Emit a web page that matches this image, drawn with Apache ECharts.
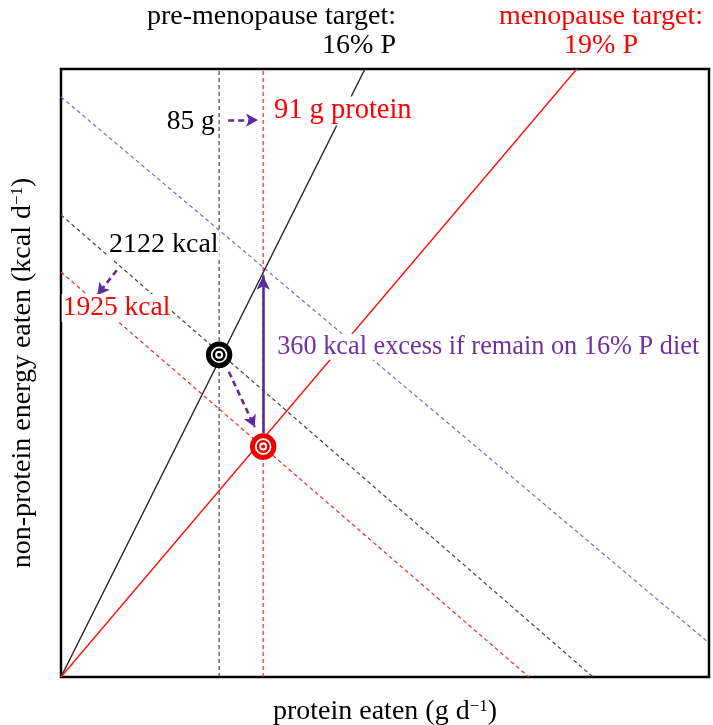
<!DOCTYPE html>
<html>
<head>
<meta charset="utf-8">
<script src="https://cdn.jsdelivr.net/npm/echarts@6/dist/echarts.min.js"></script>
<style>
  html, body { margin: 0; padding: 0; background: #fff; }
  #chart { width: 713px; height: 725px; }
</style>
</head>
<body>
<div id="chart"></div>
<script>
// ---- data (schematic axis units: 0..100 on both axes) ----
const blackSolidLine   = [[0, 0], [46.9, 100]];   // pre-menopause target 16% P
const redSolidLine     = [[0, 0], [79.6, 100]];   // menopause target 19% P
const purpleIsoLine    = [[0, 95.4], [100, 5.6]];
const blackIsoLine     = [[0, 76.0], [82.1, 0]];  // 2122 kcal
const redIsoLine       = [[0, 66.6], [72.2, 0]];  // 1925 kcal
const blackProteinLine = [[24.4, 0], [24.4, 100]]; // 85 g
const redProteinLine   = [[31.2, 0], [31.2, 100]]; // 91 g
const targetPoints     = [[24.4, 53.0], [31.2, 37.9]];
const dashedArrows     = [
  [[25.8, 91.6], [30.4, 91.6]],
  [[8.6, 66.9], [5.6, 62.8]],
  [[25.9, 50.2], [29.9, 41.1]]
];
const solidArrows      = [[[31.2, 40.1], [31.2, 66.0]]];
const labelTexts       = ['85 g', '91 g protein', '2122 kcal', '1925 kcal', '360 kcal excess if remain on 16% P diet'];
const labelAnchors     = [[23.9, 91.4], [32.7, 93.1], [7.25, 71.05], [0.1, 60.7], [33.2, 54.3]];
const titleTexts       = ['pre-menopause target:', '16% P', 'menopause target:', '19% P'];
const xAxisName        = 'protein eaten (g d{sup|\u22121})';
const yAxisName        = 'non-protein energy eaten (kcal d{sup|\u22121})';

// ---- styles ----
const FONT = '"Liberation Serif", "Times New Roman", serif';
const PURPLE = '#5b2a9c';
const PURPLE_TEXT = '#7030a0';
const RED = '#ff0000';
const labelColors = ['#000', RED, '#000', RED, PURPLE_TEXT];
const labelSides  = ['left', 'right', 'right', 'right', 'right'];
const labelSizes  = [27.5, 28.5, 28, 27.5, 26.3];
const targetColors = ['#000', '#ee0000'];
const TITLE_FS = 28;
const AXIS_FS = 28;

function lineSeries(data, color, width, dashed, z) {
  return {
    type: 'line', data: data, symbol: 'none', silent: true, z: z || 2,
    lineStyle: { color: color, width: width, type: dashed ? [4, 3] : 'solid' },
    animation: false
  };
}

const rich = {
  sup: { fontSize: 17, fontFamily: FONT, color: '#000', verticalAlign: 'top' }
};

const series = [
  lineSeries(purpleIsoLine, '#7c6cb2', 1.2, true),
  lineSeries(blackIsoLine, '#444', 1.2, true),
  lineSeries(redIsoLine, '#ee2a2a', 1.2, true),
  lineSeries(blackProteinLine, '#444', 1.2, true),
  lineSeries(redProteinLine, '#ee2a2a', 1.2, true),
  lineSeries(blackSolidLine, '#222', 1.4, false),
  lineSeries(redSolidLine, '#ff1010', 1.4, false),
  {
    type: 'line', data: [], symbol: 'none', silent: true, z: 4,
    markLine: {
      silent: true, animation: false,
      symbol: ['none', 'arrow'], symbolSize: [10, 12],
      label: { show: false },
      lineStyle: { color: PURPLE, width: 2.6, type: [6, 4] },
      data: dashedArrows.map(a => [{ coord: a[0] }, { coord: a[1] }])
    }
  },
  {
    type: 'line', data: [], symbol: 'none', silent: true, z: 4,
    markLine: {
      silent: true, animation: false,
      symbol: ['none', 'arrow'], symbolSize: [10, 14],
      label: { show: false },
      lineStyle: { color: PURPLE, width: 2.6, type: 'solid' },
      data: solidArrows.map(a => [{ coord: a[0] }, { coord: a[1] }])
    }
  },
  {
    type: 'scatter', silent: true, z: 5, symbol: 'circle', symbolSize: 21.5,
    data: targetPoints.map((p, i) => ({ value: p, itemStyle: { opacity: 1, color: '#fff', borderColor: targetColors[i], borderWidth: 5 } }))
  },
  {
    type: 'scatter', silent: true, z: 6, symbol: 'circle', symbolSize: 10.5,
    data: targetPoints.map((p, i) => ({ value: p, itemStyle: { opacity: 1, color: '#fff', borderColor: targetColors[i], borderWidth: 2.6 } }))
  },
  {
    type: 'scatter', silent: true, z: 7, symbol: 'circle', symbolSize: 4,
    data: targetPoints.map((p, i) => ({ value: p, itemStyle: { opacity: 1, color: targetColors[i] } }))
  },
  {
    type: 'scatter', silent: true, z: 10, symbolSize: 0,
    itemStyle: { opacity: 1 },
    data: labelAnchors.map((p, i) => ({
      value: p,
      itemStyle: { opacity: 1 },
      label: {
        show: true, formatter: labelTexts[i], position: labelSides[i], distance: 0,
        color: labelColors[i], fontFamily: FONT, fontSize: labelSizes[i], opacity: 1,
        backgroundColor: '#fff', padding: [0, 1]
      }
    }))
  }
];

const chart = echarts.init(document.getElementById('chart'), null, { renderer: 'canvas' });
chart.setOption({
  animation: false,
  backgroundColor: '#fff',
  grid: {
    left: 61, right: 4, top: 69, bottom: 48, show: true,
    borderColor: '#000', borderWidth: 2.5, backgroundColor: 'transparent',
    containLabel: false, outerBoundsMode: 'none'
  },
  xAxis: {
    type: 'value', min: 0, max: 100,
    axisLine: { show: false }, axisTick: { show: false }, axisLabel: { show: false }, splitLine: { show: false },
    name: xAxisName, nameLocation: 'middle', nameGap: 21,
    nameTextStyle: { fontFamily: FONT, fontSize: AXIS_FS, color: '#000', verticalAlign: 'top', rich: rich }
  },
  yAxis: {
    type: 'value', min: 0, max: 100,
    axisLine: { show: false }, axisTick: { show: false }, axisLabel: { show: false }, splitLine: { show: false },
    name: yAxisName, nameLocation: 'middle', nameGap: 24,
    nameTextStyle: { fontFamily: FONT, fontSize: AXIS_FS, color: '#000', rich: rich }
  },
  graphic: [
    { type: 'text', style: { text: titleTexts[0], x: 396, y: 17, textAlign: 'right', textVerticalAlign: 'middle', font: TITLE_FS + 'px ' + FONT, fill: '#000' } },
    { type: 'text', style: { text: titleTexts[1], x: 396, y: 46, textAlign: 'right', textVerticalAlign: 'middle', font: TITLE_FS + 'px ' + FONT, fill: '#000' } },
    { type: 'text', style: { text: titleTexts[2], x: 703, y: 17, textAlign: 'right', textVerticalAlign: 'middle', font: TITLE_FS + 'px ' + FONT, fill: RED } },
    { type: 'text', style: { text: titleTexts[3], x: 601, y: 46, textAlign: 'center', textVerticalAlign: 'middle', font: TITLE_FS + 'px ' + FONT, fill: RED } }
  ],
  series: series
});
</script>
</body>
</html>
